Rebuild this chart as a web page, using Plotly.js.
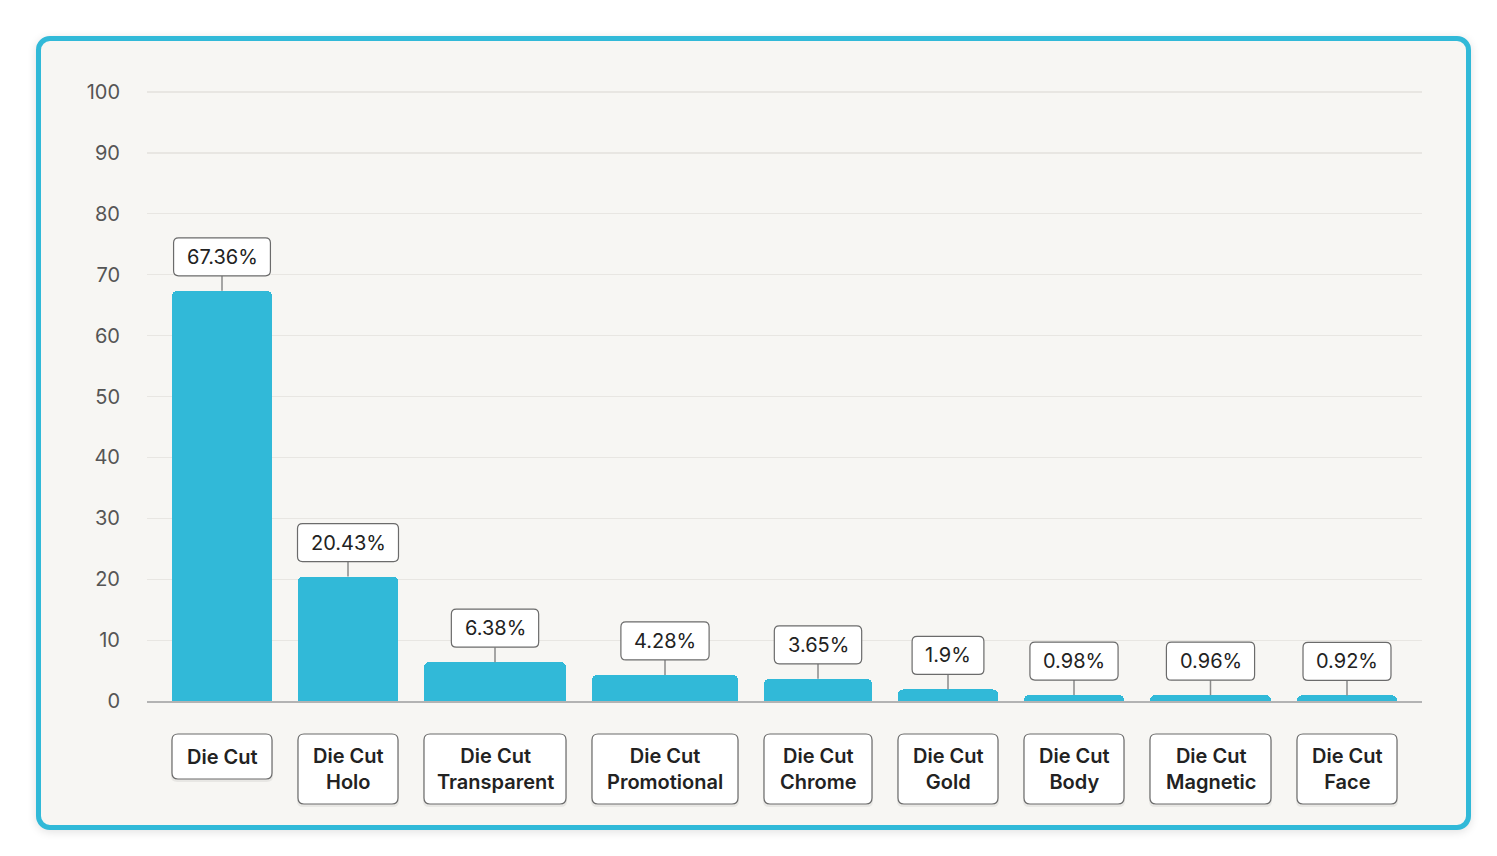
<!DOCTYPE html>
<html>
<head>
<meta charset="utf-8">
<script src="https://cdn.plot.ly/plotly-3.0.1.min.js"></script>
<style>
  html, body { margin: 0; padding: 0; background: #ffffff; width: 1497px; height: 856px; overflow: hidden; }
  #card { position: absolute; left: 36px; top: 36px; width: 1435px; height: 794px; box-sizing: border-box;
          border: 5px solid #31B9D8; border-radius: 14px; background: #F7F6F3;
          box-shadow: 0 2px 10px rgba(0,0,0,0.12); }
  #chart { position: absolute; left: 0; top: 0; width: 1497px; height: 856px; }
</style>
</head>
<body>
<div id="card"></div>
<div id="chart"></div>
<script>
// ---- data ----
const categories = ["Die Cut", "Die Cut Holo", "Die Cut Transparent", "Die Cut Promotional",
                    "Die Cut Chrome", "Die Cut Gold", "Die Cut Body", "Die Cut Magnetic", "Die Cut Face"];
const shares = [67.36, 20.43, 6.38, 4.28, 3.65, 1.9, 0.98, 0.96, 0.92];
const yTicks = [0, 10, 20, 30, 40, 50, 60, 70, 80, 90, 100];

// ---- styling / layout (pixel based) ----
const barWidths = [100, 100, 142, 146, 108, 100, 100, 121, 100];
const gap = 26, pad = 25;
const pxPerUnit = 6.09;       // pixels per y unit
const yMax = 101;
const plotH = pxPerUnit * yMax;
const topMargin = 92 - (yMax - 100) * pxPerUnit;
const BAR = '#31B9D8';
const FONT = 'Inter, "Noto Sans", sans-serif';
const VAL_SIZE = 20;

const centers = [];
let cur = pad;
barWidths.forEach(w => { centers.push(cur + w / 2); cur += w + gap; });
const xMax = cur - gap + pad;

const trace = {
  type: 'bar',
  x: centers,
  y: shares,
  width: barWidths,
  marker: { color: BAR, cornerradius: 5, line: { width: 0 } },
  hoverinfo: 'skip'
};

const annotations = [];
const shapes = [];

const ctx = document.createElement('canvas').getContext('2d');
ctx.font = `400 ${VAL_SIZE}px Inter`;

function roundedPath(x0, x1, yA, yB, r, scaleY) {
  const ry = r / scaleY;
  return `M ${x0 + r},${yA} L ${x1 - r},${yA} Q ${x1},${yA} ${x1},${yA - ry} ` +
         `L ${x1},${yB + ry} Q ${x1},${yB} ${x1 - r},${yB} L ${x0 + r},${yB} ` +
         `Q ${x0},${yB} ${x0},${yB + ry} L ${x0},${yA - ry} Q ${x0},${yA} ${x0 + r},${yA} Z`;
}

// value labels: connector + rounded box + text
shares.forEach((v, i) => {
  const label = v + '%';
  const tw = ctx.measureText(label).width;
  const bw = tw + 26, bh = 38, stem = 15;
  const cx = centers[i];
  const yb = v + stem / pxPerUnit, yt = v + (stem + bh) / pxPerUnit;
  shapes.push({ type: 'line', xref: 'x', yref: 'y', layer: 'above',
    x0: cx, x1: cx, y0: v, y1: yb, line: { color: '#8a8a8a', width: 1.5 } });
  shapes.push({ type: 'path', xref: 'x', yref: 'y', layer: 'above',
    path: roundedPath(cx - bw / 2, cx + bw / 2, yt, yb, 5, pxPerUnit),
    fillcolor: '#ffffff', line: { color: '#6b6b6b', width: 1.2 } });
  annotations.push({
    x: cx, y: v, xref: 'x', yref: 'y', yanchor: 'middle', yshift: stem + bh / 2,
    text: label, showarrow: false,
    font: { family: FONT, size: VAL_SIZE, color: '#222222' }
  });
});

// category label boxes (rounded) + text
categories.forEach((c, i) => {
  const twoLine = c !== 'Die Cut';
  const top = 33, h = twoLine ? 70 : 45;
  const x0 = centers[i] - barWidths[i] / 2, x1 = centers[i] + barWidths[i] / 2;
  shapes.push({ type: 'path', xref: 'x', yref: 'paper', layer: 'above',
    path: roundedPath(x0 - 1, x1 + 1, -(top + 1) / plotH, -(top + h + 3) / plotH, 6, plotH),
    fillcolor: 'rgba(0,0,0,0.06)', line: { width: 0 } });
  shapes.push({ type: 'path', xref: 'x', yref: 'paper', layer: 'above',
    path: roundedPath(x0, x1, -top / plotH, -(top + h) / plotH, 6, plotH),
    fillcolor: '#ffffff', line: { color: '#6b6b6b', width: 1.2 } });
  annotations.push({
    x: centers[i], xref: 'x', y: 0, yref: 'paper', yanchor: 'middle',
    yshift: -(top + h / 2), showarrow: false,
    text: c.replace('Die Cut ', 'Die Cut<br>'),
    font: { family: FONT, size: 20, color: '#222222', weight: 600 }
  });
});

const layout = {
  width: 1497, height: 856,
  paper_bgcolor: 'rgba(0,0,0,0)', plot_bgcolor: 'rgba(0,0,0,0)',
  margin: { l: 147, r: 75, t: topMargin, b: 155 },
  showlegend: false,
  bargap: 0,
  xaxis: { range: [0, xMax], showticklabels: false, showgrid: false, zeroline: false,
           showline: true, linecolor: '#b3b3b3', linewidth: 2, fixedrange: true },
  yaxis: { range: [0, yMax], tickvals: yTicks, ticktext: yTicks.map(String),
           showgrid: true, gridcolor: '#E8E6E2', gridwidth: 1.2, zeroline: false,
           ticks: '', ticklabelstandoff: 26,
           tickfont: { family: FONT, size: 20, color: '#555555' }, fixedrange: true },
  annotations: annotations,
  shapes: shapes
};

Plotly.newPlot('chart', [trace], layout, { displayModeBar: false, staticPlot: true });
</script>
</body>
</html>
